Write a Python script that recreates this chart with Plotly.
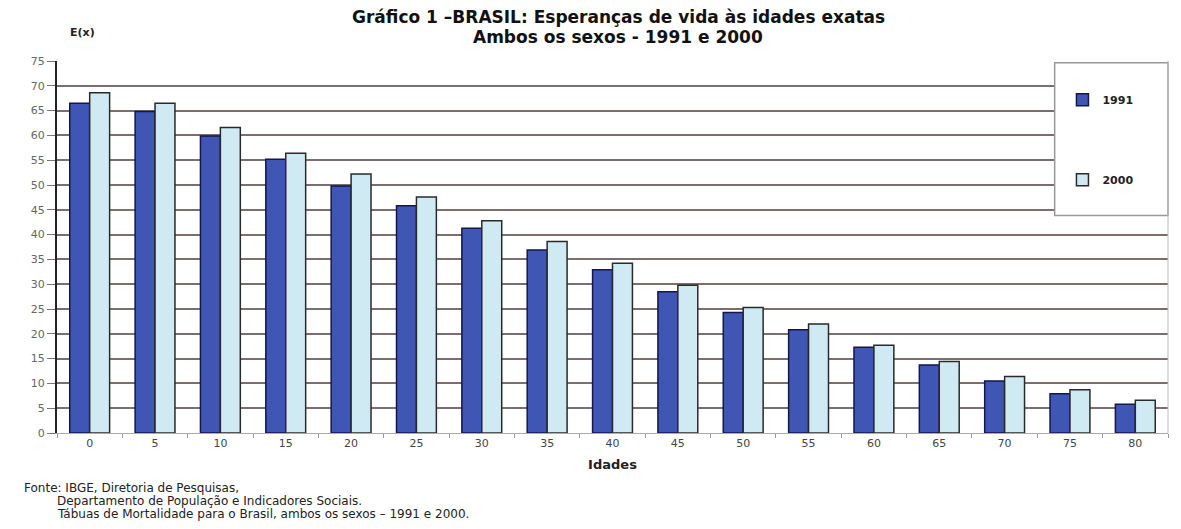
import plotly.graph_objects as go

ages = ["0", "5", "10", "15", "20", "25", "30", "35", "40", "45", "50", "55", "60", "65", "70", "75", "80"]
e1991 = [66.5, 64.8, 59.9, 55.2, 49.8, 45.8, 41.3, 36.9, 32.9, 28.5, 24.3, 20.8, 17.3, 13.7, 10.5, 7.9, 5.8]
e2000 = [68.6, 66.5, 61.6, 56.4, 52.2, 47.6, 42.8, 38.6, 34.2, 29.8, 25.3, 22.0, 17.7, 14.4, 11.4, 8.7, 6.6]
yticks = list(range(0, 80, 5))

fig = go.Figure()
fig.add_trace(go.Bar(x=ages, y=e1991, name="1991",
                     marker=dict(color="#3f56b4", line=dict(color="#15164a", width=1.5)),
                     legendgroup="a"))
fig.add_trace(go.Bar(x=ages, y=e2000, name="2000",
                     marker=dict(color="#cfeaf3", line=dict(color="#2a2a2a", width=1.5)),
                     legendgroup="b"))

PH = 372.0  # plot height in px


def py(p):
    return (433 - p) / PH


fig.update_layout(
    width=1181, height=529,
    margin=dict(l=57, r=13, t=61, b=96),
    paper_bgcolor="white", plot_bgcolor="white",
    barmode="group", bargap=0.39, bargroupgap=0,
    font=dict(family="DejaVu Sans, Arial, sans-serif", color="#333"),
    xaxis=dict(type="category", tickson="boundaries", ticks="outside", ticklen=4,
               tickcolor="#999", showline=True, linecolor="#aaa", linewidth=1,
               tickfont=dict(size=11, color="#444"), showgrid=False,
               title=dict(text="<b>Idades</b>", font=dict(size=13, color="#222"), standoff=10)),
    yaxis=dict(range=[0, 75], tickvals=yticks, ticks="outside", ticklen=8, tickcolor="#777",
               showline=True, linecolor="#222", linewidth=2,
               showgrid=True, gridcolor="#7a6e6e", gridwidth=1.5,
               tickfont=dict(size=11, color="#666"), zeroline=False),
    legend=dict(x=0.905, y=0.935, xanchor="left", yanchor="top",
                bgcolor="rgba(0,0,0,0)", borderwidth=0, tracegroupgap=61,
                font=dict(size=11, color="#222", weight="bold"),
                itemwidth=30),
    showlegend=True,
)

# legend box
fig.add_shape(type="rect", xref="paper", yref="paper",
              x0=0.898, x1=1.0, y0=0.585, y1=0.995,
              fillcolor="white", line=dict(color="#999", width=1.5), layer="above")
# right plot border
fig.add_shape(type="line", xref="paper", yref="paper", x0=1, x1=1, y0=0, y1=1,
              line=dict(color="#bbb", width=1))

# title
fig.add_annotation(text="<b>Gráfico 1 –BRASIL: Esperanças de vida às idades exatas</b>",
                   xref="paper", yref="paper", x=0.505, y=py(17), xanchor="center", yanchor="middle",
                   showarrow=False, font=dict(size=17, color="#111"))
fig.add_annotation(text="<b>Ambos os sexos - 1991 e 2000</b>",
                   xref="paper", yref="paper", x=0.505, y=py(37), xanchor="center", yanchor="middle",
                   showarrow=False, font=dict(size=17, color="#111"))

fig.add_annotation(text="<b>E(x)</b>", xref="paper", yref="paper", x=(68 - 57) / 1111, y=py(32),
                   xanchor="left", yanchor="middle", showarrow=False,
                   font=dict(size=11, color="#222"))

src_lines = ["Fonte: IBGE, Diretoria de Pesquisas,",
             "Departamento de População e Indicadores Sociais.",
             "Tábuas de Mortalidade para o Brasil, ambos os sexos – 1991 e 2000."]
src_x = [22, 55, 55]
src_y = [488, 501, 514]
for t, xx, yy in zip(src_lines, src_x, src_y):
    fig.add_annotation(text=t, xref="paper", yref="paper", x=(xx - 57) / 1111, y=py(yy),
                       xanchor="left", yanchor="middle", showarrow=False,
                       font=dict(size=12, color="#222"))

fig.write_html("out.html")
